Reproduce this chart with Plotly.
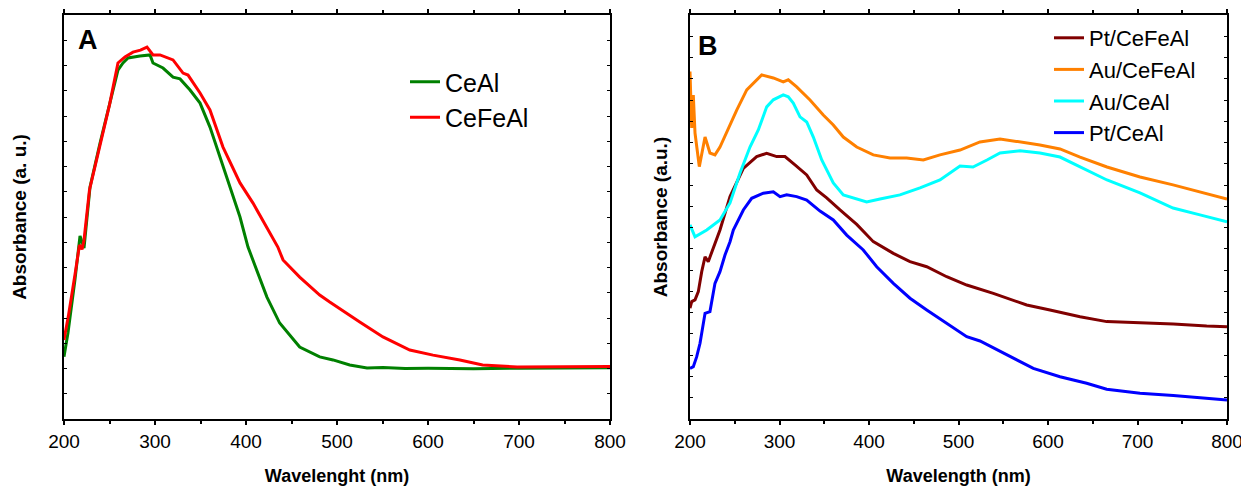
import plotly.graph_objects as go

# Panel A: UV-vis of the supports
wl_ceal = [200, 204.4, 212, 217.6, 222, 228.6, 239.6, 250.5, 259.3, 264.8, 270.3, 283.5, 294.5,
           297.8, 308.8, 319.8, 327.5, 338.5, 349.5, 360.4, 371.4, 382.4, 393.4, 402.2, 407.7,
           423, 437, 459, 481, 495.6, 514, 533, 550.5, 575, 600, 650, 700, 750, 800]
abs_ceal = [0.247, 0.341, 0.550, 0.725, 0.677, 0.919, 1.093, 1.251, 1.382, 1.410, 1.430, 1.438, 1.442,
            1.410, 1.390, 1.354, 1.347, 1.303, 1.251, 1.156, 1.038, 0.919, 0.800, 0.681, 0.630,
            0.483, 0.380, 0.285, 0.246, 0.234, 0.214, 0.202, 0.204, 0.200, 0.201, 0.199, 0.201, 0.202, 0.203]

wl_cefeal = [200, 205, 212, 217, 219.8, 222, 228, 240, 250, 259.3, 267, 275.8, 284, 291.2, 297.8,
             305.5, 319.8, 330.8, 336.3, 349.5, 360.4, 374.7, 393.4, 407.7, 423, 435, 440.7, 459,
             481, 492, 525, 550.5, 580, 605.5, 635, 660, 698, 750, 800]
abs_cefeal = [0.313, 0.412, 0.570, 0.689, 0.672, 0.709, 0.907, 1.085, 1.244, 1.410, 1.434, 1.453, 1.461,
              1.473, 1.442, 1.442, 1.422, 1.370, 1.362, 1.291, 1.224, 1.077, 0.935, 0.855, 0.760,
              0.681, 0.630, 0.562, 0.491, 0.463, 0.384, 0.325, 0.273, 0.253, 0.234, 0.214, 0.206,
              0.208, 0.208]

# Panel B: supported metals
wl_pt_cefeal = [200, 201.9, 205.6, 209.3, 213.1, 216.8, 220.4, 224.2, 229.8, 233.5, 244.7, 259.6,
                274.5, 285.7, 296.9, 306.1, 317.3, 330.4, 341.6, 352.7, 367.6, 386.3, 404.8, 427.2,
                445.8, 464.5, 486.8, 509.2, 538.9, 576.2, 602.2, 635.8, 665.6, 702.8, 740, 777.3, 800]
abs_pt_cefeal = [0.521, 0.552, 0.560, 0.599, 0.693, 0.763, 0.740, 0.781, 0.842, 0.889, 1.046, 1.179,
                 1.234, 1.250, 1.234, 1.234, 1.195, 1.148, 1.077, 1.040, 0.983, 0.915, 0.834, 0.779,
                 0.740, 0.716, 0.669, 0.630, 0.591, 0.536, 0.513, 0.481, 0.458, 0.453, 0.447, 0.437, 0.434]

wl_au_cefeal = [200, 201.9, 203.7, 205.6, 210.4, 216.8, 222.3, 227.9, 233.5, 241, 252.2, 263.4,
                270.7, 280.1, 293.1, 304.2, 309.8, 319.2, 334.1, 348.9, 360.1, 371.3, 386.3, 404.8,
                423.5, 442.1, 460.7, 479.3, 501.7, 524, 546.4, 568.7, 591, 613.4, 635.8, 665.9,
                702.8, 739.7, 769.8, 800]
abs_au_cefeal = [1.634, 1.369, 1.524, 1.345, 1.187, 1.326, 1.251, 1.242, 1.279, 1.350, 1.453, 1.548,
                 1.580, 1.618, 1.604, 1.585, 1.595, 1.562, 1.500, 1.430, 1.383, 1.326, 1.279, 1.242,
                 1.228, 1.228, 1.218, 1.242, 1.265, 1.303, 1.317, 1.303, 1.289, 1.270, 1.232, 1.185,
                 1.138, 1.101, 1.068, 1.035]

wl_au_ceal = [200, 205.6, 218.7, 233.5, 244.7, 255.9, 267, 276.3, 285.7, 293.1, 304.2, 309.8, 315.4,
              322.9, 330.4, 337.8, 347.2, 360.1, 371.3, 382.5, 397.4, 412.3, 434.6, 457, 479.3,
              501.7, 516.2, 531.8, 546.4, 568.7, 591, 613.4, 635.8, 665.9, 702.8, 739.7, 769.8, 800]
abs_au_ceal = [0.913, 0.857, 0.889, 0.936, 1.016, 1.157, 1.279, 1.359, 1.468, 1.501, 1.524, 1.515,
               1.486, 1.421, 1.397, 1.326, 1.218, 1.110, 1.054, 1.040, 1.021, 1.035, 1.054, 1.087,
               1.124, 1.190, 1.185, 1.218, 1.251, 1.261, 1.251, 1.232, 1.185, 1.124, 1.063, 0.992,
               0.960, 0.927]

wl_pt_ceal = [200, 203.7, 207.5, 211.2, 216.8, 222.3, 227.9, 233.5, 239.1, 244.7, 248.4, 259.6,
              268.9, 281.9, 293.1, 300.6, 308, 319.2, 330.4, 345.3, 360.1, 375.1, 393.6, 408.6,
              427.2, 445.8, 464.5, 486.8, 509.2, 524, 553.9, 583.6, 613.4, 643.2, 665.6, 702.8,
              740, 777.3, 800]
abs_pt_ceal = [0.238, 0.246, 0.293, 0.356, 0.497, 0.505, 0.638, 0.693, 0.771, 0.834, 0.889, 0.983,
               1.038, 1.062, 1.069, 1.046, 1.054, 1.046, 1.030, 0.978, 0.936, 0.865, 0.795, 0.716,
               0.638, 0.568, 0.513, 0.450, 0.387, 0.367, 0.301, 0.238, 0.199, 0.168, 0.140, 0.121,
               0.111, 0.097, 0.089]

FONT = "Arial, Liberation Sans, sans-serif"
W, H = 1249, 488
OFF = 8  # page body margin

fig = go.Figure()

fig.add_trace(go.Scatter(x=wl_ceal, y=abs_ceal, name="CeAl", mode="lines",
                         line=dict(color="#008000", width=3), xaxis="x", yaxis="y", legend="legend"))
fig.add_trace(go.Scatter(x=wl_cefeal, y=abs_cefeal, name="CeFeAl", mode="lines",
                         line=dict(color="#ff0000", width=3), xaxis="x", yaxis="y", legend="legend"))

fig.add_trace(go.Scatter(x=wl_pt_cefeal, y=abs_pt_cefeal, name="Pt/CeFeAl", mode="lines",
                         line=dict(color="#800000", width=3), xaxis="x2", yaxis="y2", legend="legend2"))
fig.add_trace(go.Scatter(x=wl_au_cefeal, y=abs_au_cefeal, name="Au/CeFeAl", mode="lines",
                         line=dict(color="#ff8000", width=3), xaxis="x2", yaxis="y2", legend="legend2"))
fig.add_trace(go.Scatter(x=wl_au_ceal, y=abs_au_ceal, name="Au/CeAl", mode="lines",
                         line=dict(color="#00ffff", width=3), xaxis="x2", yaxis="y2", legend="legend2"))
fig.add_trace(go.Scatter(x=wl_pt_ceal, y=abs_pt_ceal, name="Pt/CeAl", mode="lines",
                         line=dict(color="#0000ff", width=3), xaxis="x2", yaxis="y2", legend="legend2"))

xax = dict(range=[200, 800], dtick=100, ticks="outside", ticklen=4, tickwidth=1.5,
           tickcolor="black", showline=True, linecolor="black", linewidth=1.5, mirror="ticks",
           showgrid=False, zeroline=False, automargin=False,
           minor=dict(dtick=50, ticks="outside", ticklen=3, tickcolor="black"),
           tickfont=dict(family=FONT, size=19, color="black"))
yax = dict(dtick=0.1, ticks="inside", ticklen=3, tickwidth=1, tickcolor="black",
           showticklabels=False, showline=True, linecolor="black", linewidth=1.5,
           mirror="ticks", showgrid=False, zeroline=False, automargin=False)

ydom = [(H - 419 + OFF) / H, (H - 15 + OFF) / H]

fig.update_layout(
    width=W, height=H,
    margin=dict(l=0, r=0, t=0, b=0, pad=0, autoexpand=False),
    paper_bgcolor="white", plot_bgcolor="white",
    font=dict(family=FONT, color="black"),
    xaxis=dict(xax, domain=[(64 - OFF) / W, (610 - OFF) / W], anchor="y",
               title=dict(text="<b>Wavelenght (nm)</b>", font=dict(size=18), standoff=19)),
    yaxis=dict(yax, domain=ydom, range=[0, 1.6], anchor="x",
               title=dict(text="<b>Absorbance (a. u.)</b>", font=dict(size=19), standoff=31)),
    xaxis2=dict(xax, domain=[(690 - OFF) / W, (1227 - OFF) / W], anchor="y2",
                title=dict(text="<b>Wavelength (nm)</b>", font=dict(size=18), standoff=19)),
    yaxis2=dict(yax, domain=ydom, range=[0, 1.9], anchor="x2",
                title=dict(text="<b>Absorbance (a.u.)</b>", font=dict(size=19), standoff=16)),
    legend=dict(x=397 / W, y=1 - 51 / H, xanchor="left", yanchor="top",
                bgcolor="rgba(0,0,0,0)", font=dict(size=25), tracegroupgap=0),
    legend2=dict(x=1041 / W, y=1 - 9 / H, xanchor="left", yanchor="top",
                 bgcolor="rgba(0,0,0,0)", font=dict(size=22), tracegroupgap=0),
    annotations=[
        dict(text="<b>A</b>", x=68 / W, y=1 - 32 / H, xref="paper", yref="paper",
             xanchor="left", yanchor="middle", showarrow=False, font=dict(size=27)),
        dict(text="<b>B</b>", x=688 / W, y=1 - 38 / H, xref="paper", yref="paper",
             xanchor="left", yanchor="middle", showarrow=False, font=dict(size=27)),
    ],
)

fig.write_html("out.html")
